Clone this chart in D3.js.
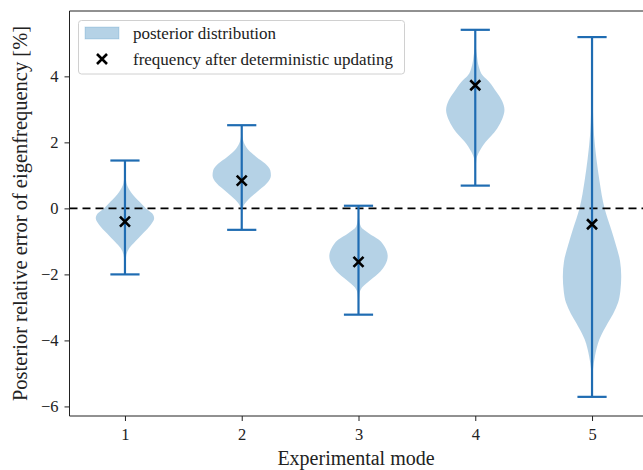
<!DOCTYPE html>
<html lang="en">
<head>
  <meta charset="UTF-8">
  <title>Violin plot</title>
  <style>
    body{ margin:0; background:#fff; }
    svg text{ font-family:"Liberation Serif","Times New Roman",serif; fill:#222; }
  </style>
</head>
<body>
<svg width="643" height="470"></svg>

<script src="https://cdn.jsdelivr.net/npm/d3@7"></script>
<script>
  // modes on the x axis
  var modes = [1, 2, 3, 4, 5];
  // extrema of each posterior sample (whisker caps)
  var maxVals = [1.45, 2.52, 0.08, 5.41, 5.19];
  var minVals = [-2.00, -0.65, -3.22, 0.69, -5.71];
  // deterministic updating result (crosses)
  var detVals = [-0.40, 0.84, -1.62, 3.73, -0.48];
  // violin outlines: value levels and relative half-widths
  var violin1Y = [1.45, 1.0, 0.77, 0.5, 0.2, 0.0, -0.15, -0.3, -0.5, -0.75, -1.0, -1.2, -1.4, -1.7, -2.0];
  var violin1W = [0, 0.02, 0.05, 0.2, 0.5, 0.72, 0.93, 1.0, 0.88, 0.62, 0.35, 0.15, 0.05, 0.01, 0];
  var violin2Y = [2.52, 2.2, 2.0, 1.8, 1.56, 1.36, 1.15, 1.0, 0.76, 0.5, 0.26, 0.05, -0.2, -0.65];
  var violin2W = [0, 0.02, 0.07, 0.2, 0.5, 0.8, 0.98, 1.0, 0.86, 0.52, 0.22, 0.05, 0.01, 0];
  var violin3Y = [0.08, -0.3, -0.55, -0.75, -0.95, -1.2, -1.45, -1.7, -1.91, -2.16, -2.4, -2.6, -2.9, -3.22];
  var violin3W = [0, 0.02, 0.08, 0.35, 0.7, 0.92, 1.0, 0.92, 0.75, 0.42, 0.12, 0.03, 0.01, 0];
  var violin4Y = [5.41, 4.9, 4.6, 4.3, 4.03, 3.83, 3.53, 3.25, 2.98, 2.7, 2.42, 2.2, 2.02, 1.72, 1.5, 1.1, 0.69];
  var violin4W = [0, 0.02, 0.06, 0.12, 0.25, 0.48, 0.72, 0.92, 1.0, 0.92, 0.75, 0.55, 0.36, 0.14, 0.04, 0.01, 0];
  var violin5Y = [5.19, 4.0, 3.0, 2.2, 1.5, 0.86, 0.0, -0.65, -1.15, -1.6, -2.06, -2.5, -2.86, -3.2, -3.47, -3.97, -4.48, -4.9, -5.3, -5.71];
  var violin5W = [0, 0.01, 0.03, 0.07, 0.15, 0.25, 0.43, 0.66, 0.83, 0.96, 1.0, 0.97, 0.89, 0.72, 0.54, 0.25, 0.1, 0.03, 0.01, 0];
  var yTicks = [-6, -4, -2, 0, 2, 4];

  var violinY = [violin1Y, violin2Y, violin3Y, violin4Y, violin5Y];
  var violinW = [violin1W, violin2W, violin3W, violin4W, violin5W];

  var svg = d3.select('svg');
  var mLeft = 69.5, mRight = 647.5, mTop = 11, mBottom = 416;
  var blue = '#1f6cb2';

  var x = d3.scaleLinear().domain([0.525, 5.475]).range([mLeft, mRight]);
  var y = d3.scaleLinear().domain([-6.29, 5.98]).range([mBottom, mTop]);
  var halfW = x(1.25) - x(1);   // violin width 0.5
  var capW = x(1.125) - x(1);

  var g = svg.append('g');

  // violin bodies
  modes.forEach(function (m, i) {
    var pts = violinY[i].map(function (v, j) { return {v: v, w: violinW[i][j]}; });
    var area = d3.area()
      .y(function (d) { return y(d.v); })
      .x0(function (d) { return x(m) - d.w * halfW; })
      .x1(function (d) { return x(m) + d.w * halfW; })
      .curve(d3.curveMonotoneY);
    g.append('path').attr('d', area(pts))
      .attr('fill', '#1f77b4').attr('fill-opacity', 0.33).attr('stroke', 'none');
  });

  // zero line
  g.append('line').attr('x1', mLeft).attr('x2', mRight).attr('y1', y(0)).attr('y2', y(0))
    .attr('stroke', '#000').attr('stroke-width', 1.8).attr('stroke-dasharray', '8,5');

  // whiskers and caps
  modes.forEach(function (m, i) {
    g.append('line').attr('x1', x(m)).attr('x2', x(m)).attr('y1', y(maxVals[i])).attr('y2', y(minVals[i]))
      .attr('stroke', blue).attr('stroke-width', 2.2);
    [maxVals[i], minVals[i]].forEach(function (v) {
      g.append('line').attr('x1', x(m) - capW).attr('x2', x(m) + capW).attr('y1', y(v)).attr('y2', y(v))
        .attr('stroke', blue).attr('stroke-width', 2.2);
    });
  });

  // crosses
  var cross = function (sel, cx, cy, s) {
    sel.append('path').attr('d', 'M' + (cx - s) + ',' + (cy - s) + 'L' + (cx + s) + ',' + (cy + s) +
      'M' + (cx - s) + ',' + (cy + s) + 'L' + (cx + s) + ',' + (cy - s))
      .attr('stroke', '#000').attr('stroke-width', 2.6).attr('fill', 'none');
  };
  modes.forEach(function (m, i) { cross(g, x(m), y(detVals[i]), 5); });

  // axes
  var xAxis = svg.append('g').attr('transform', 'translate(0,' + mBottom + ')')
    .call(d3.axisBottom(x).tickValues(modes).tickSize(5).tickPadding(7).tickFormat(d3.format('d')));
  var yAxis = svg.append('g').attr('transform', 'translate(' + mLeft + ',0)')
    .call(d3.axisLeft(y).tickValues(yTicks).tickSize(5).tickPadding(6)
      .tickFormat(function (d) { return d < 0 ? '\u2212' + Math.abs(d) : d; }));
  [xAxis, yAxis].forEach(function (a) {
    a.selectAll('text').style('font-size', '16.5px').attr('fill', '#222');
    a.selectAll('line').attr('stroke', '#222');
    a.select('.domain').remove();
  });
  svg.append('line').attr('x1', mLeft).attr('x2', mLeft).attr('y1', mTop).attr('y2', mBottom).attr('stroke', '#222');
  svg.append('line').attr('x1', mLeft).attr('x2', mRight).attr('y1', mBottom).attr('y2', mBottom).attr('stroke', '#222');
  svg.append('line').attr('x1', mLeft).attr('x2', mRight).attr('y1', mTop).attr('y2', mTop).attr('stroke', '#222');
  svg.append('line').attr('x1', mRight).attr('x2', mRight).attr('y1', mTop).attr('y2', mBottom).attr('stroke', '#222');

  // axis labels
  svg.append('text').attr('x', 356).attr('y', 465).attr('text-anchor', 'middle')
    .style('font-size', '20px').text('Experimental mode');
  svg.append('text').attr('transform', 'translate(27,' + (mTop + mBottom) / 2 + ') rotate(-90)')
    .attr('text-anchor', 'middle').style('font-size', '20.5px')
    .text('Posterior relative error of eigenfrequency [%]');

  // legend
  var lg = svg.append('g');
  lg.append('rect').attr('x', 78.5).attr('y', 20.5).attr('width', 326).attr('height', 53.5).attr('rx', 3)
    .attr('fill', '#fff').attr('fill-opacity', 0.8).attr('stroke', '#d0d0d0');
  lg.append('rect').attr('x', 85).attr('y', 27).attr('width', 34).attr('height', 12)
    .attr('fill', '#1f77b4').attr('fill-opacity', 0.33).attr('stroke', '#1f77b4').attr('stroke-opacity', 0.2);
  lg.append('text').attr('x', 133).attr('y', 39).style('font-size', '17px').text('posterior distribution');
  cross(lg, 102, 59, 5);
  lg.append('text').attr('x', 133).attr('y', 64.5).style('font-size', '17px').text('frequency after deterministic updating');
</script>
</body>
</html>
